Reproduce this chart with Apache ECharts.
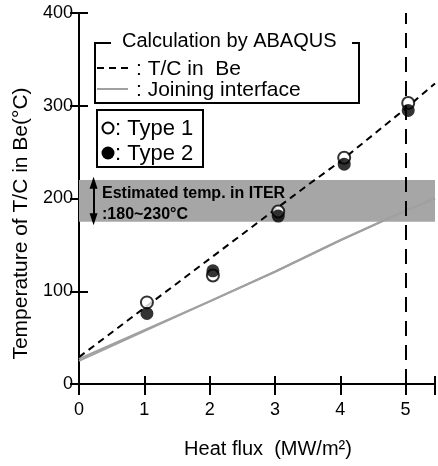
<!DOCTYPE html>
<html>
<head>
<meta charset="utf-8">
<script src="https://cdn.jsdelivr.net/npm/echarts@6/dist/echarts.min.js"></script>
<style>
  html, body { margin: 0; padding: 0; background: #fff; }
  #chart { width: 438px; height: 466px; }
</style>
</head>
<body>
<div id="chart"></div>
<script>
// values (heat flux MW/m2, temperature degC)
const calcFlux = [0, 1, 2, 3, 3.55, 4, 5, 5.45];
const calcTC = [29, 82, 135, 188, 217, 240, 297, 324];
const ifaceFlux = [0, 1, 2, 3, 4, 5, 5.45];
const iface1 = [27, 58, 89, 121, 155, 187, 200];
const iface2 = [25, 57, 89, 121, 155, 187, 200];
const testFlux = [1.04, 2.05, 3.05, 4.06, 5.04];
const type1 = [88, 117, 186, 244, 303];
const type2 = [76, 122, 181, 237, 295];
const iterBand = [175, 220];
const iterArrow = [217, 177.5];
const designFlux = 5;

const FONT = "'Liberation Sans', Arial, Helvetica, sans-serif";
const pairs = (xs, ys) => xs.map((x, i) => [x, ys[i]]);

const chart = echarts.init(document.getElementById("chart"));

const axisCommon = {
  type: "value",
  axisLine: { lineStyle: { color: "#000", width: 2 } },
  splitLine: { show: false },
};

const options = {
  animation: false,
  textStyle: { fontFamily: FONT, color: "#000" },
  grid: { left: 79, right: -3, top: 13, bottom: 82 },
  xAxis: [
    {
      ...axisCommon,
      min: 0,
      max: 5.45,
      interval: 1,
      position: "bottom",
      axisTick: { inside: true, length: 8, lineStyle: { color: "#000", width: 2 } },
      axisLabel: {
        color: "#000",
        fontSize: 18,
        margin: 17,
        formatter: (v) => (Number.isInteger(v) ? v : ""),
      },
      name: "Heat flux  (MW/m²)",
      nameLocation: "middle",
      nameGap: 55,
      nameTextStyle: { fontSize: 20, color: "#000", padding: [0, 0, 0, 22] },
    },
    {
      ...axisCommon,
      min: 0,
      max: 5.45,
      interval: 1,
      position: "top",
      axisTick: { inside: true, length: 11, lineStyle: { color: "#000", width: 2 } },
      axisLabel: { show: false },
    },
  ],
  yAxis: [
    {
      ...axisCommon,
      min: 0,
      max: 400,
      interval: 100,
      position: "left",
      axisTick: { inside: true, length: 9, lineStyle: { color: "#000", width: 2 } },
      axisLabel: { color: "#000", fontSize: 18, margin: 6 },
      name: "Temperature of T/C in Be(°C)",
      nameLocation: "middle",
      nameGap: 47,
      nameTextStyle: { fontSize: 21, color: "#000", padding: [0, 50, 0, 0] },
    },
    {
      ...axisCommon,
      min: 0,
      max: 400,
      interval: 100,
      position: "right",
      axisTick: { inside: true, length: 9, lineStyle: { color: "#000", width: 2 } },
      axisLabel: { show: false },
    },
  ],
  series: [
    {
      // estimated temperature range in ITER
      name: "ITER",
      type: "line",
      data: [],
      z: 1,
      markArea: {
        silent: true,
        itemStyle: { color: "#a6a6a6", opacity: 1 },
        label: {
          show: true,
          position: "insideLeft",
          distance: 23,
          offset: [0, 3],
          color: "#000",
          fontSize: 16,
          fontWeight: "bold",
          lineHeight: 21,
          formatter: "Estimated temp. in ITER\n:180~230°C",
        },
        data: [[{ xAxis: 0, yAxis: iterBand[0] }, { xAxis: 5.45, yAxis: iterBand[1] }]],
      },
      markLine: {
        silent: true,
        symbol: ["triangle", "triangle"],
        symbolSize: [8, 12],
        lineStyle: { color: "#000", width: 2, type: "solid" },
        label: { show: false },
        data: [[{ coord: [0.223, iterArrow[0]] }, { coord: [0.223, iterArrow[1]] }]],
      },
    },
    {
      name: "Joining interface",
      type: "line",
      data: pairs(ifaceFlux, iface1),
      symbol: "none",
      z: 2,
      lineStyle: { color: "#a0a0a0", width: 2 },
    },
    {
      name: "Joining interface 2",
      type: "line",
      data: pairs(ifaceFlux, iface2),
      symbol: "none",
      z: 2,
      lineStyle: { color: "#a0a0a0", width: 2 },
    },
    {
      name: "T/C in Be",
      type: "line",
      data: pairs(calcFlux, calcTC),
      symbol: "none",
      z: 3,
      lineStyle: { color: "#000", width: 2, type: [7, 5] },
      markLine: {
        silent: true,
        symbol: "none",
        label: { show: false },
        lineStyle: { color: "#000", width: 2, type: [15, 9] },
        data: [{ xAxis: designFlux }],
      },
    },
    {
      name: "Type 1",
      type: "scatter",
      data: pairs(testFlux, type1),
      symbol: "circle",
      symbolSize: 12,
      z: 4,
      itemStyle: { color: "#fff", borderColor: "#000", borderWidth: 2 },
    },
    {
      name: "Type 2",
      type: "scatter",
      data: pairs(testFlux, type2),
      symbol: "circle",
      symbolSize: 13,
      z: 5,
      itemStyle: { color: "#000" },
    },
  ],
  graphic: [
    // legend box: calculation
    {
      type: "polyline",
      shape: { points: [[111, 43], [95, 43], [95, 103], [359, 103], [359, 43], [352, 43]] },
      style: { stroke: "#000", lineWidth: 2, fill: null },
    },
    { type: "text", x: 122, y: 41, style: { text: "Calculation by ABAQUS", font: "20px " + FONT, fill: "#000", textVerticalAlign: "middle" } },
    { type: "line", shape: { x1: 97, y1: 68, x2: 128, y2: 68 }, style: { stroke: "#000", lineWidth: 2, lineDash: [7, 5] } },
    { type: "text", x: 136, y: 69, style: { text: ": T/C in  Be", font: "21px " + FONT, fill: "#000", textVerticalAlign: "middle" } },
    { type: "line", shape: { x1: 97, y1: 89, x2: 128, y2: 89 }, style: { stroke: "#a0a0a0", lineWidth: 2 } },
    { type: "text", x: 136, y: 90, style: { text: ": Joining interface", font: "21px " + FONT, fill: "#000", textVerticalAlign: "middle" } },
    // legend box: experiment
    {
      type: "rect",
      shape: { x: 97, y: 110, width: 106, height: 57 },
      style: { stroke: "#000", lineWidth: 2, fill: "#fff" },
    },
    { type: "circle", shape: { cx: 108, cy: 128, r: 5.5 }, style: { stroke: "#000", lineWidth: 2, fill: "#fff" } },
    { type: "text", x: 115, y: 129, style: { text: ": Type 1", font: "22px " + FONT, fill: "#000", textVerticalAlign: "middle" } },
    { type: "circle", shape: { cx: 108, cy: 153, r: 6.5 }, style: { fill: "#000" } },
    { type: "text", x: 115, y: 154, style: { text: ": Type 2", font: "22px " + FONT, fill: "#000", textVerticalAlign: "middle" } },
  ],
};

chart.setOption(options);
</script>
</body>
</html>
